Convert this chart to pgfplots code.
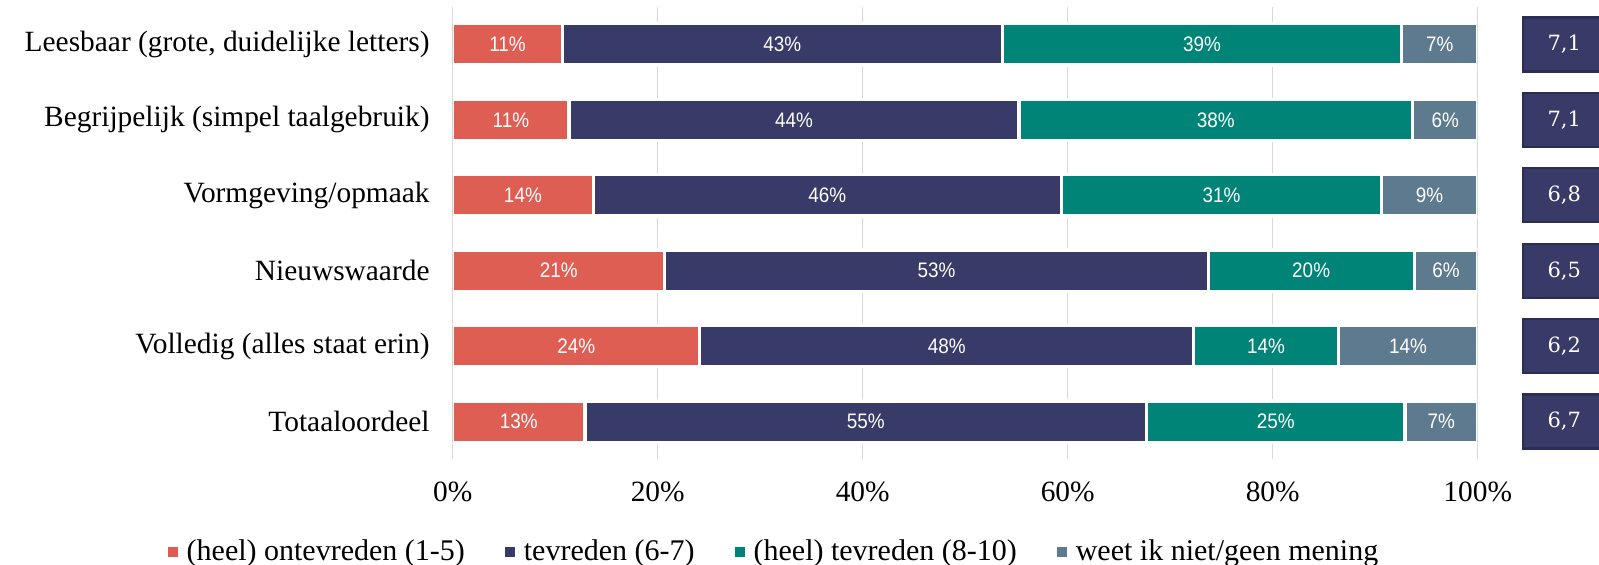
\documentclass[border=0pt]{standalone}
\usepackage{fontspec}
\setmainfont{Liberation Serif}
\newfontfamily\barfont{Liberation Sans}[FakeStretch=0.9]
\newfontfamily\scorefont{DejaVu Serif}
\usepackage{pgfplots}
\usepackage{pgfplotstable}
\pgfplotsset{compat=1.18}
\definecolor{cred}{HTML}{DF5E54}
\definecolor{cnavy}{HTML}{383A68}
\definecolor{cteal}{HTML}{008478}
\definecolor{cgrey}{HTML}{5E7A8E}
\definecolor{cgrid}{HTML}{D9D9D9}
\definecolor{cnavyd}{HTML}{2B2D55}

\pgfplotstableread{
y  a     b     c     d
0  10.7  42.9  39.0  7.4
1  11.35 43.9  38.4  6.35
2  13.7  45.7  31.2  9.4
3  20.7  53.0  20.1  6.2
4  24.1  48.2  14.1  13.6
5  12.9  54.8  25.2  7.1
}\datatable

\pgfplotstableread{
y  x       s
0  104.32  7,1
1  104.32  7,1
2  104.32  6,8
3  104.32  6,5
4  104.32  6,2
5  104.32  6,7
}\scoretable

\pgfplotsset{
  segstyle/.style={
    fill=#1, draw=white, line width=1.6pt,
    nodes near coords={\pgfmathprintnumber[fixed,precision=0,assume math mode=true]{\pgfplotspointmeta}\%},
    every node near coord/.append style={
      anchor=center, text=white, inner sep=0pt,
      font=\barfont\fontsize{10.5}{12}\selectfont},
  },
}

\begin{document}
\begin{tikzpicture}
\begin{axis}[
  xbar stacked,
  scale only axis,
  width=512.5pt, height=226.3pt,
  xmin=0, xmax=100,
  ymin=-0.5, ymax=5.5,
  y dir=reverse,
  bar width=0.547,
  axis line style={draw=none},
  tick style={draw=none},
  xmajorgrids,
  grid style={cgrid, line width=0.75pt},
  xtick={0,20,40,60,80,100},
  xticklabels={0\%,20\%,40\%,60\%,80\%,100\%},
  ytick={0,1,2,3,4,5},
  yticklabels={{Leesbaar (grote, duidelijke letters)\hspace{3.7pt}},
               {Begrijpelijk (simpel taalgebruik)\hspace{3.7pt}},
               {Vormgeving/opmaak},
               {Nieuwswaarde\hspace{3.7pt}},
               {Volledig (alles staat erin)\hspace{3.7pt}},
               {Totaaloordeel}},
  yticklabel style={anchor=east, inner sep=0pt, xshift=-11.35pt,
    font=\fontsize{14.7}{17}\selectfont},
  xticklabel style={anchor=base, inner sep=0pt, yshift=-21.1pt,
    font=\fontsize{14.7}{17}\selectfont},
  point meta=explicit,
  legend style={at={(0.3144,-0.204)}, anchor=center, draw=none, fill=none,
    legend columns=4, inner sep=0pt,
    font=\fontsize{15}{15}\selectfont,
    /tikz/every odd column/.append style={column sep=2.5pt},
    /tikz/every even column/.append style={column sep=18pt}},
  legend image code/.code={\fill[#1, draw=none] (-1.5pt,-2.5pt) rectangle (3.5pt,2.5pt);},
]
\addplot[segstyle=cred] table[x=a, y=y, meta=a] {\datatable};
\addlegendentry{(heel) ontevreden (1-5)}
\addplot[segstyle=cnavy] table[x=b, y=y, meta=b] {\datatable};
\addlegendentry{tevreden (6-7)}
\addplot[segstyle=cteal] table[x=c, y=y, meta=c] {\datatable};
\addlegendentry{(heel) tevreden (8-10)}
\addplot[segstyle=cgrey] table[x=d, y=y, meta=d] {\datatable};
\addlegendentry{weet ik niet/geen mening}
\end{axis}
\begin{axis}[
  scale only axis,
  width=512.5pt, height=226.3pt,
  xmin=0, xmax=100,
  ymin=-0.5, ymax=5.5,
  y dir=reverse,
  hide axis, clip=false,
]
\addplot[draw=none, mark=none, nodes near coords, point meta=explicit symbolic,
  every node near coord/.append style={anchor=west, fill=cnavy, draw=cnavyd,
    line width=1.2pt, minimum width=41pt, minimum height=27pt, inner sep=0pt,
    text=white, font=\scorefont\fontsize{10.5}{12}\selectfont}]
  table[x=x, y=y, meta=s] {\scoretable};
\end{axis}
\pgfresetboundingbox
\useasboundingbox (-226.35pt,-52.35pt) rectangle (573.15pt,229.65pt);
\end{tikzpicture}
\end{document}
